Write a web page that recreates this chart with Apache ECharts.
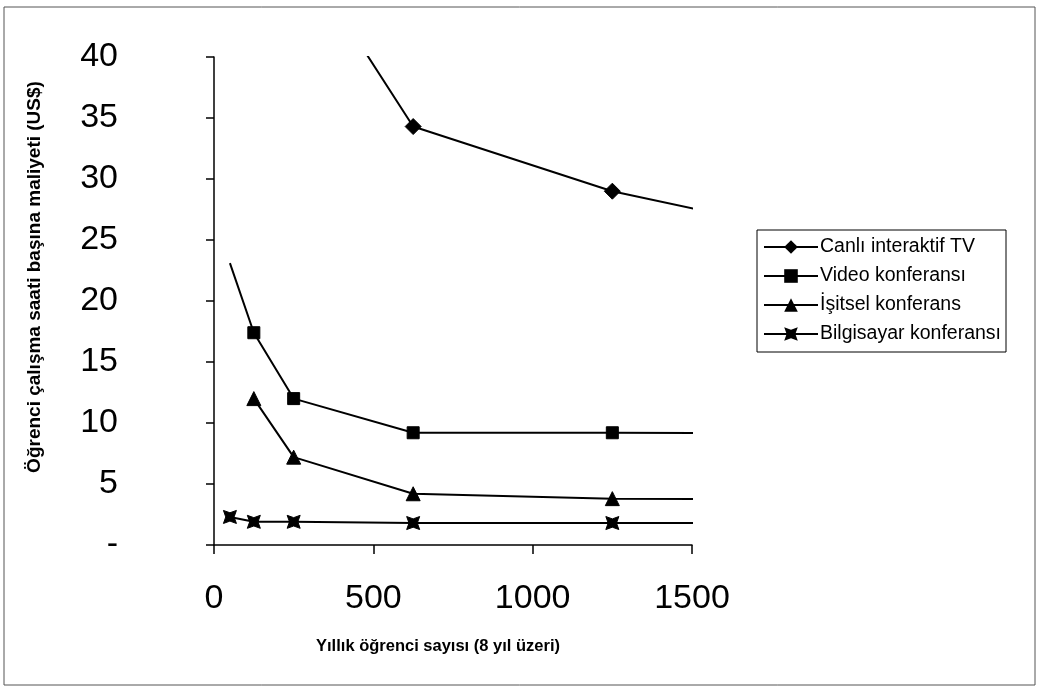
<!DOCTYPE html>
<html>
<head>
<meta charset="utf-8">
<script src="https://cdn.jsdelivr.net/npm/echarts@6/dist/echarts.min.js"></script>
<style>html,body{margin:0;padding:0;background:#fff}#c{width:1039px;height:688px}</style>
</head>
<body>
<div id="c"></div>
<script>
// ---- data (x = yıllık öğrenci sayısı, y = maliyet US$) ----
const seriesNames = ['Canlı interaktif TV', 'Video konferansı', 'İşitsel konferans', 'Bilgisayar konferansı'];
const tvX = [250, 625, 1250, 2500];
const tvY = [49.5, 34.3, 29.0, 22.0];
const videoX = [50, 125, 250, 625, 1250, 2500];
const videoY = [23.1, 17.4, 12.0, 9.2, 9.2, 9.1];
const audioX = [125, 250, 625, 1250, 2500];
const audioY = [12.0, 7.2, 4.2, 3.8, 3.7];
const compX = [50, 125, 250, 625, 1250, 2500];
const compY = [2.3, 1.9, 1.9, 1.8, 1.8, 1.8];
const xTicks = [0, 500, 1000, 1500];
const yTicks = [0, 5, 10, 15, 20, 25, 30, 35, 40];
const xTitle = 'Yıllık öğrenci sayısı (8 yıl üzeri)';
const yTitle = 'Öğrenci çalışma saati başına maliyeti (US$)';

const FONT = '"Liberation Sans", Arial, sans-serif';
const starSquare = 'path://M0,0 L5,1.8 L10,0 L8.2,5 L10,10 L5,8.2 L0,10 L1.8,5 Z';

function pairs(xs, ys, hideFirst) {
  return xs.map((x, i) => {
    const d = { value: [x, ys[i]] };
    if (hideFirst && i === 0) d.symbol = 'none';
    return d;
  });
}

function mk(name, data, symbol, size) {
  return {
    name, type: 'line', data, symbol, symbolSize: size, clip: true,
    lineStyle: { color: '#000', width: 2 },
    itemStyle: { color: '#000', borderColor: '#000' },
    emphasis: { disabled: true }, animation: false
  };
}

const chart = echarts.init(document.getElementById('c'), null, { renderer: 'canvas' });
chart.setOption({
  backgroundColor: '#fff',
  animation: false,
  grid: { left: 214, right: 347, top: 57, bottom: 143 },
  xAxis: {
    type: 'value', min: xTicks[0], max: xTicks[xTicks.length - 1], interval: 500,
    axisLine: { show: true, onZero: false, lineStyle: { color: '#000', width: 1.5 } },
    axisTick: { show: true, inside: false, length: 9, lineStyle: { color: '#000', width: 1.5 } },
    splitLine: { show: false },
    axisLabel: { color: '#000', fontFamily: FONT, fontSize: 34, margin: 37, formatter: v => String(v) }
  },
  yAxis: {
    type: 'value', min: yTicks[0], max: yTicks[yTicks.length - 1], interval: 5,
    axisLine: { show: true, onZero: false, lineStyle: { color: '#000', width: 1.5 } },
    axisTick: { show: true, inside: false, length: 8, lineStyle: { color: '#000', width: 1.5 } },
    splitLine: { show: false },
    axisLabel: {
      color: '#000', fontFamily: FONT, fontSize: 34, margin: 96,
      formatter: v => (v === 0 ? '-' : String(v))
    }
  },
  legend: {
    data: seriesNames,
    orient: 'vertical', left: 757, top: 230,
    itemWidth: 54, itemHeight: 17, itemGap: 9,
    padding: [7, 5, 8, 6],
    borderColor: '#000', borderWidth: 1,
    textStyle: { color: '#000', fontFamily: FONT, fontSize: 19.5, padding: [0, 0, 0, -3] },
    selectedMode: false
  },
  graphic: [
    { type: 'rect', shape: { x: 4, y: 7, width: 1031, height: 678 }, style: { fill: 'none', stroke: '#555', lineWidth: 1 }, silent: true },
    { type: 'text', x: 35, y: 277, rotation: Math.PI / 2,
      style: { text: yTitle, fill: '#000', font: 'bold 19px ' + FONT, align: 'center', verticalAlign: 'middle' } },
    { type: 'text', x: 438, y: 646,
      style: { text: xTitle, fill: '#000', font: 'bold 16.5px ' + FONT, align: 'center', verticalAlign: 'middle' } }
  ],
  series: [
    mk(seriesNames[0], pairs(tvX, tvY), 'diamond', 16),
    mk(seriesNames[1], pairs(videoX, videoY, true), 'rect', 12),
    mk(seriesNames[2], pairs(audioX, audioY), 'triangle', 14),
    mk(seriesNames[3], pairs(compX, compY), starSquare, 13)
  ]
});
</script>
</body>
</html>
